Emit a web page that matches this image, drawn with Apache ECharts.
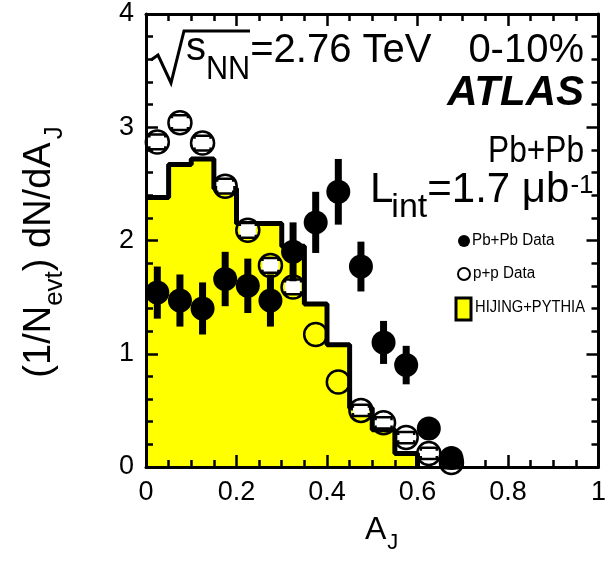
<!DOCTYPE html>
<html><head><meta charset="utf-8">
<script src="https://cdn.jsdelivr.net/npm/echarts@6/dist/echarts.min.js"></script>
<style>html,body{margin:0;padding:0;background:#fff}#c{width:609px;height:566px}</style>
</head><body><div id="c"></div>
<script>
// ---- data ----
const binEdges      = [0, 0.05, 0.1, 0.15, 0.2, 0.25, 0.3, 0.35, 0.4, 0.45, 0.5, 0.55, 0.6];
const hijingValues  = [2.38, 2.67, 2.72, 2.46, 2.15, 2.15, 1.95, 1.44, 1.08, 0.52, 0.33, 0.12, 0];
const ajCenters     = [0.025, 0.075, 0.125, 0.175, 0.225, 0.275, 0.325, 0.375, 0.425, 0.475, 0.525, 0.575, 0.625, 0.675];
const pbpbValues    = [1.54, 1.47, 1.40, 1.66, 1.60, 1.47, 1.90, 2.16, 2.43, 1.77, 1.10, 0.90, 0.34, 0.08];
const pbpbErrors    = [0.23, 0.23, 0.23, 0.24, 0.24, 0.23, 0.26, 0.27, 0.29, 0.22, 0.19, 0.17, 0.10, 0.05];
const ppValues      = [2.87, 3.04, 2.86, 2.48, 2.09, 1.78, 1.59, 1.17, 0.75, 0.50, 0.39, 0.26, 0.12, 0.04];
const ppErrors      = [0.065, 0.065, 0.065, 0.065, 0.065, 0.065, 0.065, 0, 0, 0.05, 0.05, 0.05, 0.05, 0.05];

const FONT = '"Liberation Sans", Arial, Helvetica, sans-serif';
const cv = document.createElement('canvas').getContext('2d');
function tw(t, size, pre) { cv.font = (pre || '') + ' ' + size + 'px ' + FONT; return cv.measureText(t).width; }
function txt(t, x, y, size, opts) {
  opts = opts || {};
  const pre = opts.pre || '';
  return { type: 'text', x: x, y: y, z: 100, scaleX: opts.sx || 1,
    style: { text: t, font: pre + ' ' + size + 'px ' + FONT, fill: '#000',
      textAlign: opts.align || 'left', align: opts.align || 'left',
      textVerticalAlign: 'middle', verticalAlign: 'middle' } };
}

const histData = binEdges.map((x, i) => [x, hijingValues[i]]);
const pbpbData = ajCenters.map((x, i) => [x, pbpbValues[i], pbpbErrors[i]]);
const ppData = ajCenters.map((x, i) => [x, ppValues[i], ppErrors[i]]);

const chart = echarts.init(document.getElementById('c'), null, { renderer: 'canvas' });

function axisCommon(showLabel, majorLen, minorSplit) {
  return {
    z: 10,
    axisLine: { show: true, onZero: false, lineStyle: { color: '#000', width: 3 } },
    axisTick: { show: true, inside: true, length: majorLen, lineStyle: { color: '#000', width: 2.5 } },
    minorTick: { show: true, splitNumber: minorSplit, length: 7, lineStyle: { color: '#000', width: 2.5 } },
    splitLine: { show: false },
    axisLabel: { show: showLabel, color: '#000', fontSize: 27, fontFamily: FONT, margin: 12 }
  };
}

// ---- text graphics ----
const g = [];
g.push({ type: 'polyline', z: 100, shape: { points: [[151, 60], [158, 55], [171, 83], [184, 31], [250, 31]] },
  style: { stroke: '#000', lineWidth: 3, fill: null } });
let x0 = 186;
g.push(txt('s', x0, 49, 40));
x0 += tw('s', 40);
g.push(txt('NN', x0, 70, 34, { sx: 0.9 }));
x0 += tw('NN', 34) * 0.9;
g.push(txt('=2.76 TeV', x0, 51, 40));
g.push(txt('0-10%', 584, 51, 40, { align: 'right' }));
g.push(txt('ATLAS', 584, 93, 42, { align: 'right', pre: 'italic bold' }));
g.push(txt('Pb+Pb', 584, 152, 36, { align: 'right', sx: 0.88 }));
// L_int
x0 = 370;
g.push(txt('L', x0, 190, 42));
x0 += tw('L', 42) - 2;
g.push(txt('int', x0, 208, 34));
x0 += tw('int', 34);
g.push(txt('=1.7 \u03bcb', x0, 190, 42));
x0 += tw('=1.7 \u03bcb', 42);
g.push(txt('-1', x0 + 1, 186, 26));
// legend
g.push({ type: 'circle', z: 100, shape: { cx: 464, cy: 241, r: 6 }, style: { fill: '#000' } });
g.push(txt('Pb+Pb Data', 472, 241, 16, { sx: 0.95 }));
g.push({ type: 'circle', z: 100, shape: { cx: 464, cy: 274, r: 6 }, style: { fill: '#fff', stroke: '#000', lineWidth: 2 } });
g.push(txt('p+p Data', 473, 274, 16, { sx: 0.95 }));
g.push({ type: 'rect', z: 100, shape: { x: 456, y: 298, width: 15, height: 22 }, style: { fill: '#ffff00', stroke: '#000', lineWidth: 3 } });
g.push(txt('HIJING+PYTHIA', 475, 308, 16, { sx: 0.92 }));
// x-axis title
g.push(txt('A', 365, 530, 32));
g.push(txt('J', 365 + tw('A', 32) + 1, 543, 22));
// y-axis title (rotated)
const yl = [];
let lx = 0;
const ym = 38, ys = 26;
function yt(t, x, y, s) { return { type: 'text', x: x, y: y, style: { text: t, font: s + 'px ' + FONT, fill: '#000', textVerticalAlign: 'middle', verticalAlign: 'middle' } }; }
yl.push(yt('(1/N', lx, 0, ym)); lx += tw('(1/N', ym);
yl.push(yt('evt', lx, 15, ys)); lx += tw('evt', ys);
yl.push(yt(') dN/dA', lx, 0, ym)); lx += tw(') dN/dA', ym);
yl.push(yt('J', lx + 3, 15, ys)); lx += tw('J', ys) + 3;
g.push({ type: 'group', x: 40, y: 252 + lx / 2, rotation: Math.PI / 2, z: 100, children: yl });

const option = {
  animation: false,
  backgroundColor: '#fff',
  grid: { left: 146, right: 6, top: 14, bottom: 99, containLabel: false },
  xAxis: [
    Object.assign({ type: 'value', min: 0, max: 1, interval: 0.2, position: 'bottom' }, axisCommon(true, 12, 4)),
    Object.assign({ type: 'value', min: 0, max: 1, interval: 0.2, position: 'top' }, axisCommon(false, 12, 4))
  ],
  yAxis: [
    Object.assign({ type: 'value', min: 0, max: 4, interval: 1, position: 'left' }, axisCommon(true, 12, 5)),
    Object.assign({ type: 'value', min: 0, max: 4, interval: 1, position: 'right' }, axisCommon(false, 12, 5))
  ],
  series: [
    { name: 'HIJING+PYTHIA', type: 'line', step: 'end', data: histData, symbol: 'none', z: 2,
      lineStyle: { color: '#000', width: 5 }, areaStyle: { color: '#ffff00', opacity: 1 } },
    { name: 'p+p syst', type: 'custom', data: ppData, z: 3,
      renderItem: function (params, api) {
        const x = api.value(0), y = api.value(1), e = api.value(2);
        if (!e) return null;
        const a = api.coord([x, y + e]), b = api.coord([x, y - e]);
        const w = 8, h = 3;
        return { type: 'group', children: [
          { type: 'rect', shape: { x: a[0] - w, y: a[1], width: 2 * w, height: b[1] - a[1] }, style: { fill: '#fff' } },
          { type: 'polyline', shape: { points: [[a[0] - w, a[1] + h], [a[0] - w, a[1]], [a[0] + w, a[1]], [a[0] + w, a[1] + h]] }, style: { stroke: '#000', lineWidth: 2.5, fill: null } },
          { type: 'polyline', shape: { points: [[b[0] - w, b[1] - h], [b[0] - w, b[1]], [b[0] + w, b[1]], [b[0] + w, b[1] - h]] }, style: { stroke: '#000', lineWidth: 2.5, fill: null } }
        ] };
      } },
    { name: 'p+p Data', type: 'scatter', data: ppData, symbol: 'circle', symbolSize: 23, z: 4,
      itemStyle: { color: 'rgba(0,0,0,0)', borderColor: '#000', borderWidth: 2.5, opacity: 1 } },
    { name: 'Pb+Pb err', type: 'custom', data: pbpbData, z: 5,
      renderItem: function (params, api) {
        const x = api.value(0), y = api.value(1), e = api.value(2);
        const a = api.coord([x, y + e]), b = api.coord([x, y - e]);
        return { type: 'rect', shape: { x: a[0] - 3.5, y: a[1], width: 7, height: b[1] - a[1] }, style: { fill: '#000' } };
      } },
    { name: 'Pb+Pb Data', type: 'scatter', data: pbpbData, symbol: 'circle', symbolSize: 24, z: 6,
      itemStyle: { color: '#000', opacity: 1 } }
  ],
  graphic: g
};
chart.setOption(option);
</script></body></html>
